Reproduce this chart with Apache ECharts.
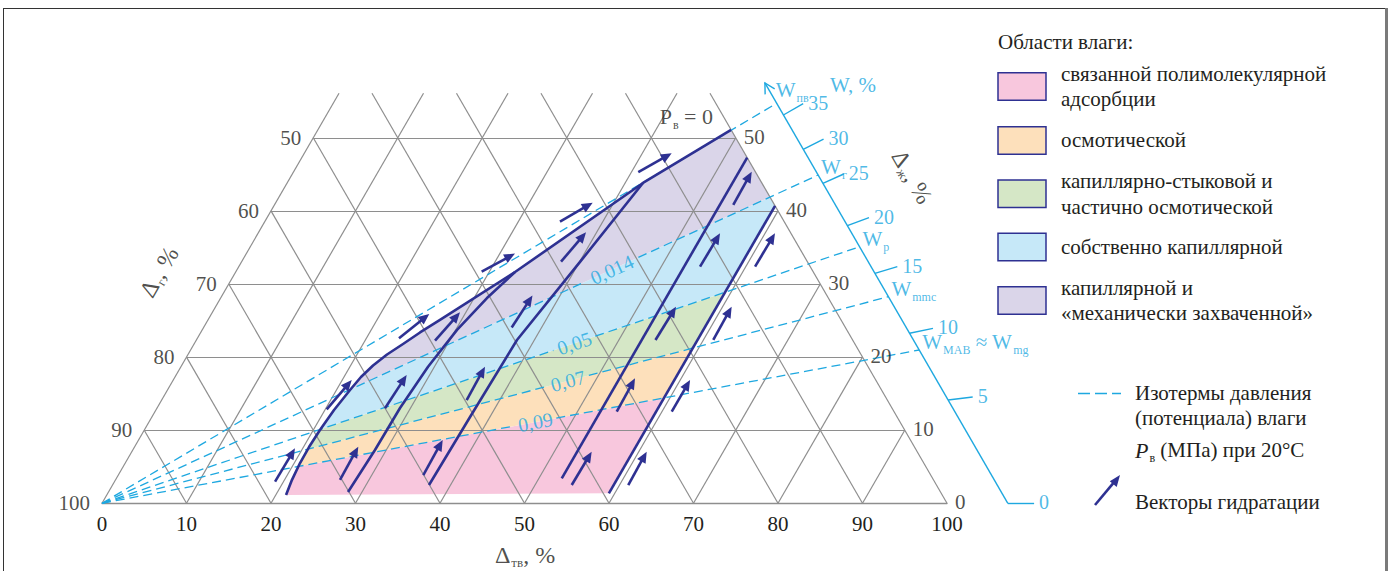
<!DOCTYPE html>
<html><head><meta charset="utf-8"><title>Области влаги</title>
<script src="https://cdn.jsdelivr.net/npm/echarts@6/dist/echarts.min.js"></script>
<style>html,body{margin:0;padding:0;background:#fff;}#chart{width:1394px;height:571px;}</style>
</head><body><div id="chart"></div>
<script>
// ================= DATA (ternary coordinates: [Δтв, Δж], Δг = 100 - Δтв - Δж) =================
const tvTicks = [0, 10, 20, 30, 40, 50, 60, 70, 80, 90, 100];
const sideLevels = [0, 10, 20, 30, 40, 50];                 // Δж levels of side tick labels
const gTickLabels = ['100', '90', '80', '70', '60', '50'];  // Δг, left side
const zhTickLabels = ['0', '10', '20', '30', '40', '50'];   // Δж, right side

// W axis (moisture, %) ticks and the Δж level at which each tick sits on the W axis
const wTicks = ['0', '5', '10', '15', '20', '25', '30', '35'];
const wTickLevels = [0, 14.13, 23.26, 31.46, 37.98, 43.78, 48.43, 53.12];
const wAxisTopLevel = 57.5;

// isotherms of moisture pressure: W-axis end level, characteristic moisture, pressure label
const isoNames = ['{m|W}{s|пв}', '{m|W}{s|г}', '{m|W}{s|р}', '{m|W}{s|mmc}', '{m|W}{s|MAB}{m| ≈ W}{s|mg}'];
const isoLevels = [54.72, 44.91, 35.1, 28.26, 20.97];
const isoPressure = ['', '0,014', '0,05', '0,07', '0,09'];
const isoLabelAt = [0, 0.712, 0.6235, 0.5924, 0.5303];
const isoLabelGap = [0, 0.037, 0.0276, 0.0266, 0.0256];

// boundary curves
const curveC1 = [[21.21, 1.14], [20.88, 3.21], [20.68, 5.51], [20.65, 7.70], [20.78, 10.03], [21.08, 12.76],
  [21.60, 15.50], [22.01, 17.28], [22.65, 18.85], [23.55, 20.36], [24.73, 21.79], [25.95, 23.37], [27.46, 25.08],
  [33.06, 31.64], [42.11, 43.82], [48.91, 51.07]];
const curveC2 = [[28.34, 1.55], [28.66, 7.29], [28.75, 13.04], [29.25, 18.67], [30.15, 23.73], [31.52, 28.08], [33.06, 31.64]];
const curveC3 = [[37.45, 2.50], [37.65, 11.81], [37.94, 22.34], [40.06, 33.02], [42.11, 43.82]];
const lineL4 = [[52.7, 3.42], [52.7, 47.3]];
const lineL5 = [[59.3, 1.37], [59.3, 40.7]];

// hydration vectors [Δтв0, Δж0, Δтв1, Δж1]
const arrows = [
  [19.00, 2.96, 19.08, 7.52], [20.16, 12.86, 21.12, 16.87], [26.57, 3.19, 26.46, 7.74], [26.99, 13.00, 27.28, 17.55],
  [36.09, 3.87, 35.99, 8.66], [36.09, 14.13, 35.98, 18.69], [54.34, 2.50, 54.42, 7.06], [54.65, 12.53, 54.53, 17.10],
  [61.03, 2.50, 60.93, 7.06], [61.16, 12.53, 61.16, 16.87], [23.86, 22.57, 25.78, 25.90], [28.29, 22.24, 29.30, 26.13],
  [36.46, 24.05, 36.73, 28.43], [54.33, 22.34, 54.48, 26.89], [61.17, 22.34, 61.07, 26.89], [40.82, 45.29, 43.48, 47.88],
  [34.94, 38.52, 37.51, 41.12], [29.09, 31.68, 31.79, 34.17], [37.80, 33.05, 38.74, 37.09], [54.59, 32.37, 54.67, 36.94],
  [54.30, 40.81, 54.21, 45.36], [61.10, 32.37, 61.17, 36.94]
];

const regionNames = [['связанной полимолекулярной', 'адсорбции'], ['осмотической'],
  ['капиллярно-стыковой и', 'частично осмотической'], ['собственно капиллярной'],
  ['капиллярной и', '«механически захваченной»']];
const regionColors = ['#f8c7dd', '#fde0bb', '#d5e7c6', '#c6e8f8', '#dad5e9'];

// ================= helpers =================
const F = "'Liberation Serif','Times New Roman',serif";
const NAVY = '#2e3192', CYAN = '#1ea8e0', GRAY = '#8e8e8e', INK = '#231f20';
const SQ = Math.sqrt(3) / 2;
const C = (t, j) => [t + j / 2, j];                 // ternary -> cartesian data coords
const W_SUM = 107.2;                                // W axis: line Δтв + Δж = W_SUM
const wPoint = lv => [W_SUM - lv, lv];
const scaleT = (p, f) => [p[0] * f, p[1] * f];       // along a ray from the Δг=100 vertex
const TICK_EXT = 1.029;
const JTOP = 56.1;

function clipHalf(poly, d, keepAbove) {
  const out = [];
  const s = p => (d[0] * p[1] - d[1] * p[0]) * (keepAbove ? 1 : -1);
  for (let i = 0; i < poly.length; i++) {
    const a = poly[i], b = poly[(i + 1) % poly.length];
    const sa = s(a), sb = s(b);
    if (sa >= 0) out.push(a);
    if ((sa >= 0) !== (sb >= 0)) {
      const k = sa / (sa - sb);
      out.push([a[0] + (b[0] - a[0]) * k, a[1] + (b[1] - a[1]) * k]);
    }
  }
  return out;
}
const envelope = [lineL5[0], lineL5[1], ...curveC1.slice().reverse()].map(p => C(p[0], p[1]));
const bandRays = [isoLevels[4], isoLevels[3], isoLevels[2], isoLevels[1]].map(lv => C(...wPoint(lv)));
const regionPolys = regionColors.map((c, k) => {
  let poly = envelope;
  if (k > 0) poly = clipHalf(poly, bandRays[k - 1], true);
  if (k < 4) poly = clipHalf(poly, bandRays[k], false);
  return poly;
});

// grid segments
const gridSeg = [];
for (let j = 10; j <= 50; j += 10) gridSeg.push([[0, j], [100 - j, j]]);
for (let t = 0; t < 100; t += 10) gridSeg.push([[t, 0], [t, Math.min(JTOP, 100 - t)]]);
for (let s = 10; s <= 100; s += 10) { const jt = Math.min(JTOP, s); gridSeg.push([[s, 0], [s - jt, jt]]); }

// isotherm segments
const raySeg = [];
isoLevels.forEach((lv, i) => {
  const end = wPoint(lv), f = isoLabelAt[i], g = isoLabelGap[i];
  if (f > 0) { raySeg.push([[0, 0], scaleT(end, f - g)]); raySeg.push([scaleT(end, f + g), end]); }
  else raySeg.push([[0, 0], end]);
});

// W ticks
const wTickSeg = wTickLevels.map(lv => [wPoint(lv), scaleT(wPoint(lv), TICK_EXT)]);

// ================= texts =================
const texts = [];
function txt(pos, text, label) {
  texts.push({ value: pos, label: Object.assign({ show: true, formatter: text, position: 'inside', align: 'center',
    verticalAlign: 'middle', fontFamily: F, fontSize: 21, color: INK }, label) });
}
sideLevels.forEach((j, i) => txt(C(0, j), gTickLabels[i], { align: 'right', offset: [-12, 0] }));
sideLevels.forEach((j, i) => txt(C(100 - j, j), zhTickLabels[i], { align: 'left', offset: [8, -1] }));
wTickLevels.forEach((lv, i) => txt(C(...scaleT(wPoint(lv), TICK_EXT)), wTicks[i], { align: 'left', offset: [5, -1], color: CYAN, fontSize: 20 }));
const richC = { m: { fontSize: 21, color: CYAN, fontFamily: F }, s: { fontSize: 12, color: CYAN, fontFamily: F, padding: [16, 0, 0, 1] } };
const richK = { m: { fontSize: 22, color: INK, fontFamily: F }, s: { fontSize: 12, color: INK, fontFamily: F, padding: [16, 0, 0, 1] } };
const richT = { m: { fontSize: 24, color: INK, fontFamily: F }, s: { fontSize: 13, color: INK, fontFamily: F, padding: [14, 0, 0, 1] } };
isoLevels.forEach((lv, i) => {
  const end = wPoint(lv);
  txt(C(...end), isoNames[i], { align: 'left', offset: i === 0 ? [-1, -13] : [3, -8], rich: richC });
  if (isoPressure[i]) {
    const p = scaleT(end, isoLabelAt[i]);
    const ang = Math.atan2(end[1] * SQ, end[0] + end[1] / 2) * 180 / Math.PI;
    txt(C(...p), isoPressure[i], { rotate: ang, color: CYAN, fontSize: 20 });
  }
});
txt([50.06, -7.1], '{m|Δ}{s|тв}{m|, %}', { rich: richT });
txt([6.75, 31.64], '{m|Δ}{s|г}{m|, %}', { rich: richT, rotate: 60 });
txt([95.86, 44.64], '{m|Δ}{s|ж}{m|, %}', { rich: richT, rotate: -60 });
txt([66.0, 52.85], '{m|P}{s|в}{m| = 0}', { rich: richK, align: 'left' });
txt([88.88, 57.22], 'W, %', { color: CYAN, fontSize: 21 });

// ================= legend (graphic) =================
const g = [];
const font = sz => sz + "px 'Liberation Serif','Times New Roman',serif";
const LF = 21;
g.push({ type: 'text', style: { x: 998, y: 42, text: 'Области влаги:', font: font(LF), fill: INK, verticalAlign: 'middle', textVerticalAlign: 'middle' } });
const boxTops = [72.7, 126.7, 180, 233.3, 286.7];
regionNames.forEach((lines, i) => {
  g.push({ type: 'rect', shape: { x: 998, y: boxTops[i], width: 48, height: 27.5 }, style: { fill: regionColors[i], stroke: NAVY, lineWidth: 1.5 } });
  const cy = boxTops[i] + 13.75;
  lines.forEach((s, k) => {
    const y = cy + (k - (lines.length - 1) / 2) * 25.5;
    g.push({ type: 'text', style: { x: 1061, y: y, text: s, font: font(LF), fill: INK, verticalAlign: 'middle', textVerticalAlign: 'middle' } });
  });
});
g.push({ type: 'line', shape: { x1: 1078, y1: 393.5, x2: 1121, y2: 393.5 }, style: { stroke: CYAN, lineWidth: 1.4, lineDash: [12, 5] } });
['Изотермы давления', '(потенциала) влаги'].forEach((s, k) =>
  g.push({ type: 'text', style: { x: 1135, y: 393.3 + k * 25, text: s, font: font(LF), fill: INK, verticalAlign: 'middle', textVerticalAlign: 'middle' } }));
g.push({ type: 'text', style: { x: 1135, y: 450, text: '{p|P}{s|в}{m| (МПа) при 20°С}', font: font(LF), fill: INK, verticalAlign: 'middle', textVerticalAlign: 'middle',
  rich: { p: { fontStyle: 'italic', fontSize: 22, fontFamily: F, fill: INK }, s: { fontSize: 12, fontFamily: F, padding: [16, 0, 0, 1], fill: INK }, m: { fontSize: LF, fontFamily: F, fill: INK } } } });
g.push({ type: 'line', shape: { x1: 1095, y1: 505, x2: 1113.5, y2: 482.8 }, style: { stroke: NAVY, lineWidth: 2.6 } });
g.push({ type: 'polygon', shape: { points: [[1120, 475], [1116.7, 487.1], [1109.8, 481.3]] }, style: { fill: NAVY } });
g.push({ type: 'text', style: { x: 1135, y: 501.7, text: 'Векторы гидратации', font: font(LF), fill: INK, verticalAlign: 'middle', textVerticalAlign: 'middle' } });
// frame
g.push({ type: 'line', shape: { x1: 3.5, y1: 8, x2: 3.5, y2: 571 }, style: { stroke: '#333', lineWidth: 1 } });
g.push({ type: 'line', shape: { x1: 3, y1: 8.5, x2: 1387, y2: 8.5 }, style: { stroke: '#333', lineWidth: 1 } });
g.push({ type: 'line', shape: { x1: 1386.5, y1: 8, x2: 1386.5, y2: 571 }, style: { stroke: '#7a7a7a', lineWidth: 3 } });

// ================= chart =================
const chart = echarts.init(document.getElementById('chart'), null, { renderer: 'svg' });
const segData = segs => segs.map(s => ({ coords: s.map(p => C(p[0], p[1])) }));
const curveSeries = pts => ({ type: 'line', data: pts.map(p => C(p[0], p[1])), symbol: 'none', showSymbol: false, clip: false,
  silent: true, z: 4, lineStyle: { color: NAVY, width: 2.6, join: 'round' } });

chart.setOption({
  animation: false,
  backgroundColor: '#fff',
  grid: { left: 102, right: 447, top: 64.7, bottom: 67.7 },
  xAxis: { type: 'value', min: 0, max: 100, interval: 10, splitLine: { show: false }, axisTick: { show: false },
    axisLine: { lineStyle: { color: GRAY, width: 1.4 } },
    axisLabel: { margin: 10, fontSize: 21, color: INK, fontFamily: F, showMinLabel: true, showMaxLabel: true,
      formatter: v => tvTicks.indexOf(v) >= 0 ? String(v) : '' } },
  yAxis: { type: 'value', min: 0, max: 60, show: false },
  graphic: g,
  series: [
    { type: 'custom', z: 1, silent: true, clip: false, data: regionColors.map((c, i) => [i, 0]),
      renderItem: (params, api) => ({ type: 'polygon', shape: { points: regionPolys[params.dataIndex].map(p => api.coord(p)) },
        style: { fill: regionColors[params.dataIndex] } }) },
    { type: 'lines', coordinateSystem: 'cartesian2d', z: 2, silent: true, clip: false, data: segData(gridSeg),
      lineStyle: { color: GRAY, width: 1.2, opacity: 1 } },
    { type: 'lines', coordinateSystem: 'cartesian2d', z: 3, silent: true, clip: false, data: segData(raySeg),
      lineStyle: { color: CYAN, width: 1.3, opacity: 1, type: [9, 5] } },
    curveSeries(curveC1), curveSeries(curveC2), curveSeries(curveC3), curveSeries(lineL4), curveSeries(lineL5),
    { type: 'lines', coordinateSystem: 'cartesian2d', z: 3, silent: true, clip: false, data: segData(wTickSeg),
      lineStyle: { color: CYAN, width: 1.4, opacity: 1 } },
    { type: 'custom', z: 3, silent: true, clip: false, data: [[...C(...wPoint(0)), ...C(...wPoint(wAxisTopLevel))]],
      encode: { x: [0, 2], y: [1, 3] },
      renderItem: (params, api) => {
        const p0 = api.coord([api.value(0), api.value(1)]), p1 = api.coord([api.value(2), api.value(3)]);
        const dx = p1[0] - p0[0], dy = p1[1] - p0[1], L = Math.hypot(dx, dy), ux = dx / L, uy = dy / L;
        const st = { stroke: CYAN, lineWidth: 1.4, fill: null };
        return { type: 'group', children: [
          { type: 'line', shape: { x1: p0[0], y1: p0[1], x2: p1[0], y2: p1[1] }, style: st },
          { type: 'polyline', shape: { points: [[p1[0] - ux * 10 - uy * 5.5, p1[1] - uy * 10 + ux * 5.5], p1, [p1[0] - ux * 10 + uy * 5.5, p1[1] - uy * 10 - ux * 5.5]] }, style: st }
        ] };
      } },
    { type: 'custom', z: 5, silent: true, clip: false, data: arrows.map(a => [...C(a[0], a[1]), ...C(a[2], a[3])]),
      encode: { x: [0, 2], y: [1, 3] },
      renderItem: (params, api) => {
        const p0 = api.coord([api.value(0), api.value(1)]), p1 = api.coord([api.value(2), api.value(3)]);
        const dx = p1[0] - p0[0], dy = p1[1] - p0[1], L = Math.hypot(dx, dy), ux = dx / L, uy = dy / L;
        const HL = 11, HW = 4.8;
        const bx = p1[0] - ux * HL, by = p1[1] - uy * HL;
        return { type: 'group', children: [
          { type: 'line', shape: { x1: p0[0], y1: p0[1], x2: bx + ux, y2: by + uy }, style: { stroke: NAVY, lineWidth: 2.6 } },
          { type: 'polygon', shape: { points: [p1, [bx - uy * HW, by + ux * HW], [bx + uy * HW, by - ux * HW]] }, style: { fill: NAVY } }
        ] };
      } },
    { type: 'scatter', z: 6, silent: true, clip: false, symbolSize: 1, itemStyle: { color: 'rgba(0,0,0,0)' },
      emphasis: { disabled: true }, data: texts }
  ]
});
</script></body></html>
